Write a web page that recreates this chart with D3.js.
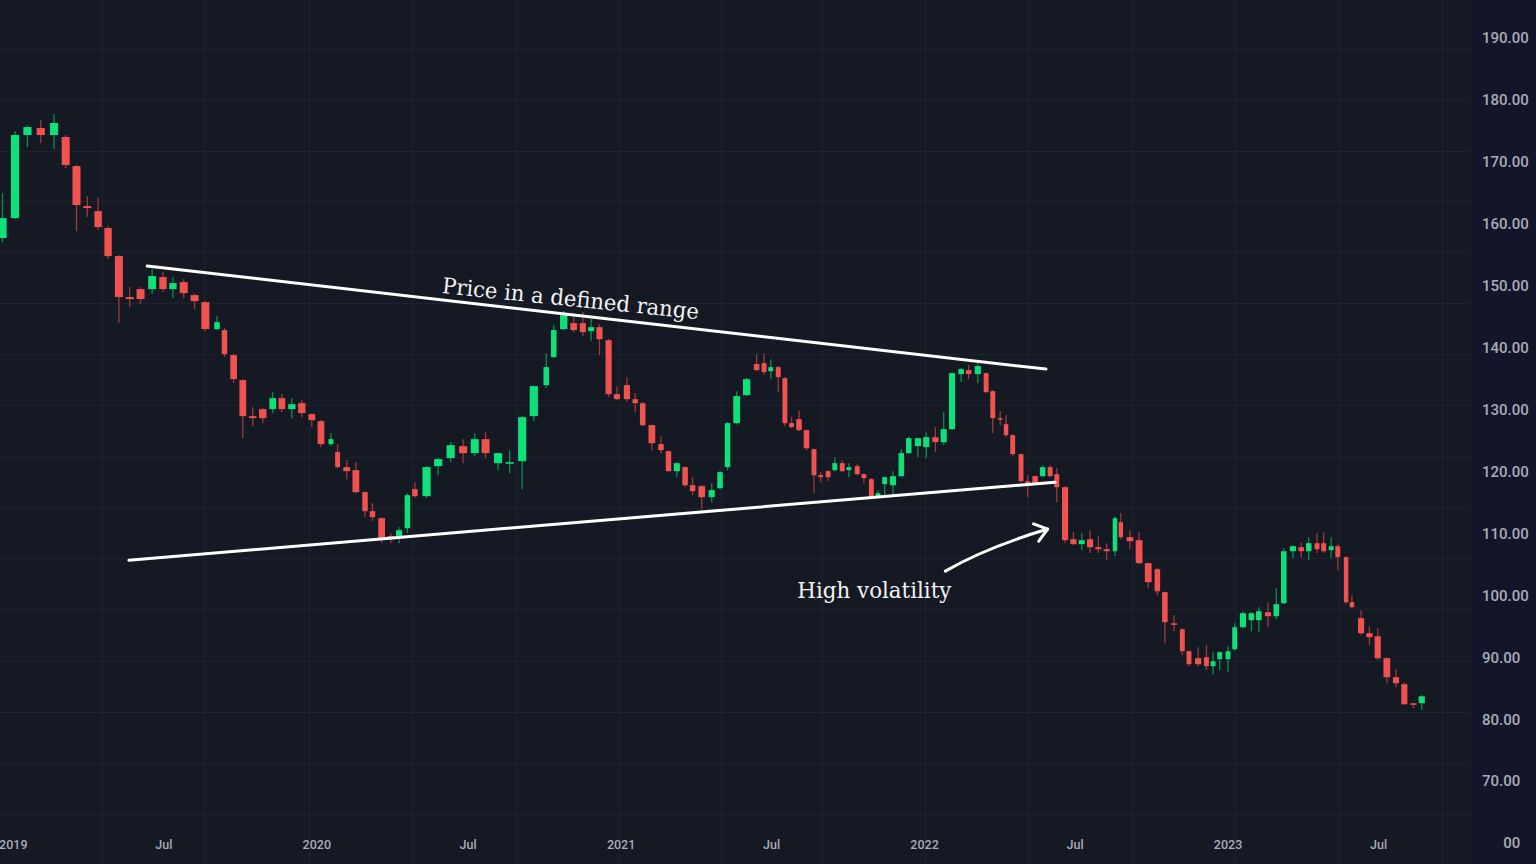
<!DOCTYPE html>
<html><head><meta charset="utf-8">
<script src="https://cdn.jsdelivr.net/npm/d3@7"></script>
<style>html,body{margin:0;padding:0;background:#151924;overflow:hidden}</style>
</head><body><svg id="c" width="1536" height="864"></svg>
<script>
const dates=["2018-12-19","2019-01-03","2019-01-18","2019-02-03","2019-02-19","2019-03-05","2019-03-18","2019-03-31","2019-04-13","2019-04-25",
"2019-05-08","2019-05-21","2019-06-03","2019-06-17","2019-06-30","2019-07-12","2019-07-25","2019-08-07","2019-08-20","2019-09-03",
"2019-09-12","2019-09-23","2019-10-04","2019-10-16","2019-10-28","2019-11-09","2019-11-20","2019-12-02","2019-12-14","2019-12-26",
"2020-01-06","2020-01-18","2020-01-26","2020-02-06","2020-02-17","2020-02-28","2020-03-08","2020-03-19","2020-03-30","2020-04-09",
"2020-04-19","2020-04-28","2020-05-12","2020-05-26","2020-06-10","2020-06-25","2020-07-09","2020-07-22","2020-08-06","2020-08-20",
"2020-09-04","2020-09-18","2020-10-03","2020-10-12","2020-10-24","2020-11-05","2020-11-16","2020-11-26","2020-12-06","2020-12-17",
"2020-12-27","2021-01-08","2021-01-18","2021-01-27","2021-02-07","2021-02-18","2021-02-27","2021-03-09","2021-03-19","2021-03-28",
"2021-04-08","2021-04-20","2021-04-30","2021-05-09","2021-05-20","2021-06-01","2021-06-13","2021-06-22","2021-06-30","2021-07-09",
"2021-07-17","2021-07-25","2021-08-03","2021-08-12","2021-08-21","2021-08-29","2021-09-07","2021-09-15","2021-09-24","2021-10-02",
"2021-10-12","2021-10-20","2021-10-29","2021-11-06","2021-11-14","2021-11-24","2021-12-04","2021-12-13","2021-12-24","2022-01-03",
"2022-01-14","2022-01-24","2022-02-03","2022-02-14","2022-02-23","2022-03-06","2022-03-16","2022-03-24","2022-04-02","2022-04-09",
"2022-04-17","2022-04-27","2022-05-05","2022-05-14","2022-05-23","2022-06-01","2022-06-09","2022-06-19","2022-06-29","2022-07-09",
"2022-07-19","2022-07-29","2022-08-08","2022-08-18","2022-08-25","2022-09-05","2022-09-16","2022-09-27","2022-10-08","2022-10-17",
"2022-10-28","2022-11-07","2022-11-15","2022-11-26","2022-12-06","2022-12-14","2022-12-22","2023-01-01","2023-01-09","2023-01-19",
"2023-01-29","2023-02-07","2023-02-18","2023-02-28","2023-03-09","2023-03-20","2023-03-30","2023-04-08","2023-04-18","2023-04-26",
"2023-05-05","2023-05-13","2023-05-23","2023-05-30","2023-06-10","2023-06-20","2023-06-30","2023-07-11","2023-07-22","2023-08-01",
"2023-08-12","2023-08-22"];
const open=[157.69,160.92,174.33,175.46,174.33,174.01,169.32,162.86,162.05,159.31,
154.78,148.16,149.45,149.45,151.39,149.45,150.58,148.48,147.35,142.99,
142.83,138.79,134.75,128.93,130.07,130.07,131.84,130.07,131.03,129.26,
128.13,124.41,123.12,120.70,120.21,116.66,113.59,112.45,109.55,109.55,
110.84,117.14,116.01,120.86,122.15,124.09,122.96,125.22,121.34,121.34,
121.66,128.93,133.94,138.47,142.99,143.96,143.96,142.67,143.31,141.21,
132.49,133.94,131.68,131.03,127.48,124.41,123.28,120.05,120.70,117.79,
117.63,115.85,117.30,120.70,127.80,132.33,137.34,137.50,136.20,136.85,
135.07,127.80,128.45,126.67,123.60,119.40,120.05,120.21,121.34,120.21,
120.86,119.56,118.76,115.85,117.95,117.79,119.24,122.96,124.09,123.93,
125.54,124.73,126.83,135.72,136.37,135.72,135.88,132.97,128.61,127.64,
125.86,122.80,118.43,119.24,119.24,120.70,119.56,117.46,109.06,108.26,
109.06,107.77,107.45,107.12,111.81,109.39,108.90,105.19,104.22,100.50,
95.49,94.52,90.97,89.84,90.00,88.55,89.68,89.68,91.29,94.84,
95.98,95.98,97.27,96.62,98.72,107.12,107.77,107.12,108.42,108.42,
107.29,107.93,106.16,98.89,96.30,93.88,93.39,89.84,86.77,85.64,
82.57,82.57];
const high=[164.96,174.98,175.94,176.75,177.72,174.33,169.5,164.48,164.15,159.63,
155.0,149.77,149.77,152.68,152.2,151.39,151.07,148.7,147.5,145.09,
143.15,139.0,134.9,130.39,130.23,132.81,132.49,131.84,131.52,129.4,
128.3,126.19,124.41,121.83,121.5,116.8,114.88,112.6,110.03,111.0,
116.5,118.27,120.9,122.2,124.73,125.22,126.19,126.35,123.1,123.44,
128.9,133.9,139.11,143.64,145.9,145.57,145.74,144.6,143.8,141.4,
133.78,135.23,132.65,131.2,127.6,125.70,123.4,121.5,120.9,119.08,
117.8,118.11,120.1,128.0,132.97,135.1,138.95,139.11,138.14,137.0,
135.2,128.77,129.90,126.8,123.7,119.89,120.2,122.31,121.83,121.34,
121.18,119.7,118.9,116.98,119.2,120.05,123.60,125.70,125.5,126.35,
127.16,129.58,136.0,136.7,137.17,137.50,136.0,133.1,129.74,129.10,
126.0,122.9,119.40,119.4,121.02,121.02,120.53,117.6,110.19,110.03,
110.52,109.55,108.42,112.78,113.26,110.52,110.19,105.3,104.4,100.6,
96.79,94.7,91.1,91.62,91.94,90.81,91.0,91.78,95.49,97.43,
97.3,98.08,98.89,101.15,107.61,108.1,108.58,109.39,110.03,110.19,
109.39,108.26,106.3,100.02,97.59,95.01,94.68,90.0,88.06,85.96,
82.6,83.9];
const low=[157.04,160.76,172.39,173.04,172.07,169.0,158.82,161.08,158.98,154.30,
143.96,146.54,147.03,148.64,148.97,148.0,148.0,146.22,142.67,142.83,
138.47,134.27,125.38,127.32,127.80,129.42,129.58,128.61,128.77,127.16,
123.93,124.09,120.53,118.76,116.5,112.62,111.97,108.42,108.42,108.42,
110.03,115.85,115.69,119.40,121.50,121.34,122.47,122.15,120.21,119.73,
117.14,128.13,133.46,138.3,142.8,142.50,141.86,141.05,138.79,132.0,
131.5,131.2,129.58,127.32,123.44,122.96,119.89,119.08,117.46,116.17,
113.91,115.04,117.1,120.21,127.6,132.1,136.2,135.56,134.91,132.81,
127.32,127.0,126.5,123.44,116.50,118.27,118.43,120.0,119.9,119.08,
119.4,118.11,115.7,115.7,115.85,116.17,119.1,122.8,122.31,122.15,
123.12,124.25,126.7,134.43,134.91,134.27,132.65,126.19,127.48,125.54,
122.47,118.2,115.85,117.9,119.1,119.1,115.04,108.42,108.1,107.29,
106.80,106.80,105.67,106.32,109.06,107.45,105.02,101.15,100.02,92.26,
94.20,90.32,88.55,88.55,87.90,87.25,87.90,87.58,91.1,94.7,
94.20,94.04,94.84,96.14,98.6,105.99,106.16,105.67,106.80,106.80,
105.99,104.05,98.56,97.9,93.55,91.94,89.52,85.80,85.15,82.3,
81.76,81.44];
const close=[160.92,174.33,175.62,174.33,176.27,169.48,163.02,162.54,159.47,154.78,
148.16,147.84,147.84,151.55,149.45,150.42,148.80,147.51,142.99,144.12,
138.95,134.91,128.93,128.61,128.61,131.84,130.07,130.87,129.42,128.29,
124.41,125.22,120.70,120.05,116.66,113.59,112.62,109.22,109.06,110.52,
116.17,116.01,120.70,121.99,124.25,122.96,125.22,122.96,122.96,121.50,
128.77,133.78,136.85,142.83,145.57,142.83,142.50,143.31,141.37,132.49,
131.68,131.68,131.03,127.48,124.57,123.44,120.05,121.34,117.79,116.82,
115.85,116.98,119.89,127.80,132.17,134.91,136.37,136.04,136.85,135.23,
127.80,127.16,126.67,123.76,119.40,119.08,119.08,121.34,120.05,120.70,
119.56,118.92,115.85,116.50,119.08,119.24,122.96,125.38,125.38,125.54,
124.73,126.83,135.88,136.53,135.72,137.01,132.81,128.61,128.45,125.86,
122.80,118.43,118.11,118.11,120.70,119.24,117.46,108.90,108.26,108.90,
107.77,107.45,107.12,112.45,109.39,108.74,105.19,102.12,100.66,95.66,
95.33,90.97,88.87,88.87,88.55,89.35,90.81,90.97,94.84,97.11,
97.11,97.43,96.62,98.56,107.12,107.93,107.12,108.42,107.45,107.12,
107.93,106.16,98.89,98.08,93.88,93.23,89.84,86.77,85.80,82.41,
82.41,83.70];

const yTickValues=[190,180,170,160,150,140,130,120,110,100,90,80,70,60];
const yTickLabels=["190.00","180.00","170.00","160.00","150.00","140.00","130.00","120.00","110.00","100.00","90.00","80.00","70.00","00"];
const xTickDates=["2019-01-01","2019-07-01","2020-01-01","2020-07-01","2021-01-01","2021-07-01","2022-01-01","2022-07-01","2023-01-01","2023-07-01"];
const xTickLabels=["2019","Jul","2020","Jul","2021","Jul","2022","Jul","2023","Jul"];
const gridPrices=[188.2,180.0,171.75,163.7,155.4,147.2,139.0,130.7,122.3,114.1,106.0,97.8,89.4,81.2,72.9,64.7];
const gridDates=["2019-04-18","2019-08-18","2019-12-23","2020-04-24","2020-08-28","2020-12-29","2021-05-01","2021-08-31","2022-01-02","2022-05-05","2022-09-07","2023-01-09","2023-05-15","2023-09-15"];
const upperTrend=[["2019-06-11",153.17],["2022-05-27",136.53]];
const lowerTrend=[["2019-05-20",105.67],["2022-06-07",118.27]];
const arrowPts=[["2022-01-26",103.9],["2022-03-14",107.6],["2022-05-29",110.7]];
const annoTexts=["Price in a defined range","High volatility"];
const annoDates=["2020-05-30","2021-08-01"];
const annoPrices=[148.8,99.5];
const annoAngles=[5.8,0];
const annoLengths=[258,154];

const parse=d3.timeParse("%Y-%m-%d");
const W=1536,H=864,plotR=1470;
const x=d3.scaleTime().domain([parse("2018-12-16"),parse("2023-10-19")]).range([0,plotR]);
const y=d3.scaleLinear().domain([60,190]).range([843,38]);

const svg=d3.select("#c");
svg.append("rect").attr("width",W).attr("height",H).attr("fill","#151924");
svg.append("rect").attr("x",plotR).attr("width",W-plotR).attr("height",H).attr("fill","#131629");
svg.append("line").attr("x1",plotR+0.5).attr("x2",plotR+0.5).attr("y1",0).attr("y2",H).attr("stroke","#1c2030");

const grid=svg.append("g");
grid.selectAll("line.h").data(gridPrices).join("line").attr("class","h")
 .attr("x1",0).attr("x2",plotR).attr("y1",d=>Math.round(y(d))+0.5).attr("y2",d=>Math.round(y(d))+0.5)
 .attr("stroke","#1d2130").attr("stroke-width",1);
grid.selectAll("line.v").data(gridDates).join("line").attr("class","v")
 .attr("x1",d=>Math.round(x(parse(d)))+0.5).attr("x2",d=>Math.round(x(parse(d)))+0.5).attr("y1",0).attr("y2",H)
 .attr("stroke","#1d2130").attr("stroke-width",1);

const candles=dates.map((d,i)=>({t:parse(d),o:open[i],h:high[i],l:low[i],c:close[i]}));
const xs=candles.map(c=>x(c.t));
const g=svg.append("g");
candles.forEach((c,i)=>{
  const cx=xs[i];
  const gp=i>0?cx-xs[i-1]:xs[i+1]-cx;
  const gn=i<xs.length-1?xs[i+1]-cx:gp;
  const w=Math.max(4.5,Math.min(8.2,0.74*Math.min(gp,gn)));
  const up=c.c>=c.o;
  g.append("line").attr("x1",cx).attr("x2",cx).attr("y1",y(c.h)).attr("y2",y(c.l))
   .attr("stroke",up?"#0a8f4c":"#9a3a3a").attr("stroke-width",1.3);
  const top=y(Math.max(c.o,c.c)),bot=y(Math.min(c.o,c.c));
  g.append("rect").attr("x",cx-w/2).attr("y",top).attr("width",w).attr("height",Math.max(1.6,bot-top))
   .attr("fill",up?"#0ee07a":"#f0524f");
});

// y axis labels
const ya=svg.append("g").attr("font-family","Roboto, 'Open Sans', sans-serif").attr("font-size",15).attr("font-weight",500).attr("fill","#a9acb6");
const yl=ya.selectAll("text").data(yTickValues).join("text")
 .attr("x",1482).attr("y",d=>y(d)).attr("dy","0.36em").text((d,i)=>yTickLabels[i]);
// last label shares right edge with the 5-char labels
const ref=yl.filter((d,i)=>yTickLabels[i].length===5).node();
if(ref){const rw=ref.getComputedTextLength();
 yl.filter((d,i)=>yTickLabels[i].length<5).attr("x",1482+rw).attr("text-anchor","end");}

// x axis labels
svg.append("g").attr("font-family","Roboto, 'Open Sans', sans-serif").attr("font-size",12.5).attr("font-weight",500).attr("fill","#a9acb6")
 .selectAll("text").data(xTickDates).join("text")
 .attr("x",d=>x(parse(d))).attr("y",849).attr("text-anchor","middle").text((d,i)=>xTickLabels[i]);

// trend lines
const line=d3.line().x(d=>x(parse(d[0]))).y(d=>y(d[1]));
[upperTrend,lowerTrend].forEach(t=>{
 svg.append("path").attr("d",line(t)).attr("fill","none").attr("stroke","#ffffff").attr("stroke-width",3).attr("stroke-linecap","round");
});
// arrow
const ap=arrowPts.map(p=>[x(parse(p[0])),y(p[1])]);
svg.append("path").attr("d",`M${ap[0][0]},${ap[0][1]} Q${ap[1][0]},${ap[1][1]} ${ap[2][0]},${ap[2][1]}`)
 .attr("fill","none").attr("stroke","#fff").attr("stroke-width",3).attr("stroke-linecap","round");
const ang=Math.atan2(ap[2][1]-ap[1][1],ap[2][0]-ap[1][0]);
const L=15,spread=37*Math.PI/180;
const a1=[ap[2][0]-L*Math.cos(ang-spread),ap[2][1]-L*Math.sin(ang-spread)];
const a2=[ap[2][0]-L*Math.cos(ang+spread),ap[2][1]-L*Math.sin(ang+spread)];
svg.append("path").attr("d",`M${a1[0]},${a1[1]} L${ap[2][0]},${ap[2][1]} L${a2[0]},${a2[1]}`)
 .attr("fill","none").attr("stroke","#fff").attr("stroke-width",3).attr("stroke-linecap","round").attr("stroke-linejoin","round");

// annotation text
annoTexts.forEach((t,i)=>{
 const px=x(parse(annoDates[i])),py=y(annoPrices[i]);
 svg.append("text").attr("x",px).attr("y",py).attr("transform",`rotate(${annoAngles[i]},${px},${py})`)
  .attr("font-family","'DejaVu Serif', 'Liberation Serif', serif").attr("font-size",22)
  .attr("fill","#f2f2f2").attr("textLength",annoLengths[i]).attr("lengthAdjust","spacingAndGlyphs").text(t);
});
</script></body></html>
